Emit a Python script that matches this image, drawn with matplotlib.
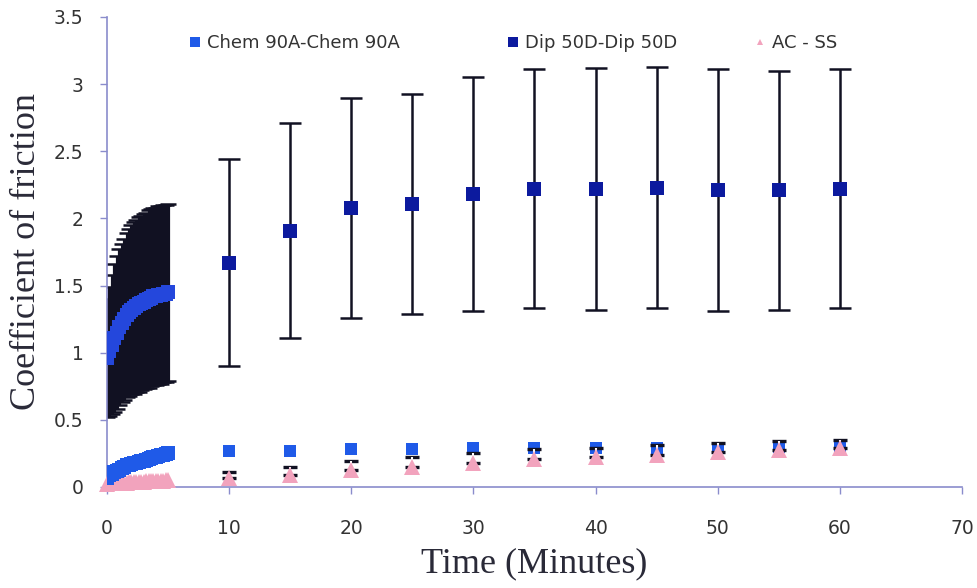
import matplotlib
matplotlib.use("Agg")
import matplotlib.pyplot as plt
from matplotlib.lines import Line2D

# ---- data -----------------------------------------------------------------
# sampling during the first five minutes (every 0.2 min)
t_early = [0.0, 0.2, 0.4, 0.6, 0.8, 1.0, 1.2, 1.4, 1.6, 1.8, 2.0, 2.2, 2.4,
           2.6, 2.8, 3.0, 3.2, 3.4, 3.6, 3.8, 4.0, 4.2, 4.4, 4.6, 4.8, 5.0]
# readings every five minutes afterwards
t_late = [10, 15, 20, 25, 30, 35, 40, 45, 50, 55, 60]

chem_early = [0.07, 0.09, 0.10, 0.11, 0.12, 0.13, 0.14, 0.15, 0.16, 0.165,
              0.17, 0.175, 0.18, 0.185, 0.19, 0.195, 0.20, 0.21, 0.215, 0.22,
              0.225, 0.23, 0.235, 0.24, 0.245, 0.25]
chem_late = [0.27, 0.27, 0.28, 0.28, 0.29, 0.29, 0.29, 0.29, 0.29, 0.30, 0.30]

dip_early = [0.96, 1.01, 1.06, 1.11, 1.15, 1.19, 1.22, 1.25, 1.28, 1.30,
             1.32, 1.33, 1.35, 1.36, 1.37, 1.38, 1.39, 1.40, 1.41, 1.42,
             1.42, 1.43, 1.43, 1.44, 1.44, 1.45]
dip_early_err = [0.44, 0.48, 0.52, 0.55, 0.57, 0.58, 0.59, 0.60, 0.61, 0.62,
                 0.63, 0.64, 0.64, 0.65, 0.65, 0.65, 0.65, 0.66, 0.66, 0.66,
                 0.66, 0.66, 0.66, 0.66, 0.66, 0.66]
dip_late = [1.67, 1.91, 2.08, 2.11, 2.18, 2.22, 2.22, 2.23, 2.21, 2.21, 2.22]
dip_late_err = [0.77, 0.80, 0.82, 0.82, 0.87, 0.89, 0.90, 0.90, 0.90, 0.89, 0.89]

acss_early = [0.025, 0.026, 0.027, 0.028, 0.029, 0.030, 0.031, 0.032, 0.033,
              0.034, 0.035, 0.036, 0.037, 0.038, 0.039, 0.040, 0.041, 0.042,
              0.043, 0.044, 0.045, 0.046, 0.047, 0.048, 0.049, 0.050]
acss_late = [0.07, 0.09, 0.13, 0.15, 0.18, 0.21, 0.22, 0.24, 0.26, 0.275, 0.29]
acss_late_err = [0.04, 0.06, 0.06, 0.07, 0.07, 0.07, 0.07, 0.07, 0.07, 0.07, 0.06]

labels = ["Chem 90A-Chem 90A", "Dip 50D-Dip 50D", "AC - SS"]
x_ticks = [0, 10, 20, 30, 40, 50, 60, 70]
y_ticks = [0, 0.5, 1, 1.5, 2, 2.5, 3, 3.5]
y_tick_labels = ["0", "0.5", "1", "1.5", "2", "2.5", "3", "3.5"]

# ---- style ------------------------------------------------------------------
CHEM_COLOR = "#1f5ae8"
DIP_COLOR = "#0c1a9e"
DIP_EARLY_COLOR = "#2447dc"
ACSS_COLOR = "#f2a3bd"
ERR_COLOR = "#111122"
AXIS_COLOR = "#8a8ccc"
TEXT_COLOR = "#333333"
LABEL_COLOR = "#2a2a38"

plt.rcParams["font.family"] = ["DejaVu Sans"]

fig = plt.figure(figsize=(9.78, 5.88), dpi=100)
ax = fig.add_axes([0.1094, 0.1718, 0.8742, 0.7993])

# Dip 50D : early block with dense error bars
ax.errorbar(t_early, dip_early, yerr=dip_early_err, fmt="none",
            ecolor=ERR_COLOR, elinewidth=2.3, capsize=6, capthick=1.8, zorder=2)
ax.plot(t_early, dip_early, "s", color=DIP_EARLY_COLOR, ms=9.5, mew=0, zorder=3)

# Dip 50D : later readings
ax.errorbar(t_late, dip_late, yerr=dip_late_err, fmt="none",
            ecolor=ERR_COLOR, elinewidth=1.8, capsize=8, capthick=1.8, zorder=2)
ax.plot(t_late, dip_late, "s", color=DIP_COLOR, ms=9.5, mew=0, zorder=3)

# Chem 90A
ax.plot(t_early, chem_early, "s", color=CHEM_COLOR, ms=10, mew=0, zorder=4)
ax.plot(t_late, chem_late, "s", color=CHEM_COLOR, ms=9, mew=0, zorder=4)

# AC - SS
ax.plot(t_early, acss_early, "^", color=ACSS_COLOR, ms=11, mew=0, zorder=3,
        clip_on=False)
_, caps, bars = ax.errorbar(t_late, acss_late,
                            yerr=[[0] * len(acss_late), acss_late_err],
                            fmt="none", ecolor=ERR_COLOR, elinewidth=1.5,
                            capsize=5, capthick=2.4, zorder=5)
for b in bars:
    b.set_color("white")
    b.set_zorder(6)
ax.plot(t_late, acss_late, "^", color=ACSS_COLOR, ms=11, mew=0, zorder=7,
        clip_on=False)

# ---- axes -------------------------------------------------------------------
ax.set_xlim(0, 70)
ax.set_ylim(0, 3.5)
ax.set_xticks(x_ticks)
ax.set_yticks(y_ticks)
ax.set_yticklabels(y_tick_labels)
for side in ("top", "right"):
    ax.spines[side].set_visible(False)
for side in ("left", "bottom"):
    ax.spines[side].set_color(AXIS_COLOR)
    ax.spines[side].set_linewidth(1.2)
ax.tick_params(axis="both", colors=AXIS_COLOR, length=5, width=1,
               labelsize=13.5, labelcolor=TEXT_COLOR)
ax.tick_params(axis="y", pad=12)
ax.tick_params(axis="x", pad=18)

serif = ["Liberation Serif", "DejaVu Serif"]
ax.set_xlabel("Time (Minutes)", family=serif, fontsize=26, color=LABEL_COLOR,
              labelpad=7)
ax.set_ylabel("Coefficient of friction", family=serif, fontsize=26,
              color=LABEL_COLOR, labelpad=8)

# legend entries placed individually along the top
entries = [
    (Line2D([], [], ls="none", marker="s", color=CHEM_COLOR, ms=7.5, mew=0), 189),
    (Line2D([], [], ls="none", marker="s", color=DIP_COLOR, ms=7.5, mew=0), 507),
    (Line2D([], [], ls="none", marker="^", color=ACSS_COLOR, ms=4.5, mew=0), 754),
]
for (handle, px), text in zip(entries, labels):
    fig.legend([handle], [text], loc="center left",
               bbox_to_anchor=(px / 978, 1 - 43 / 588),
               bbox_transform=fig.transFigure, frameon=False,
               fontsize=13, borderpad=0, borderaxespad=0,
               handlelength=0.7, handletextpad=0.3,
               labelcolor=TEXT_COLOR)

fig.savefig("out.png", dpi=100)
